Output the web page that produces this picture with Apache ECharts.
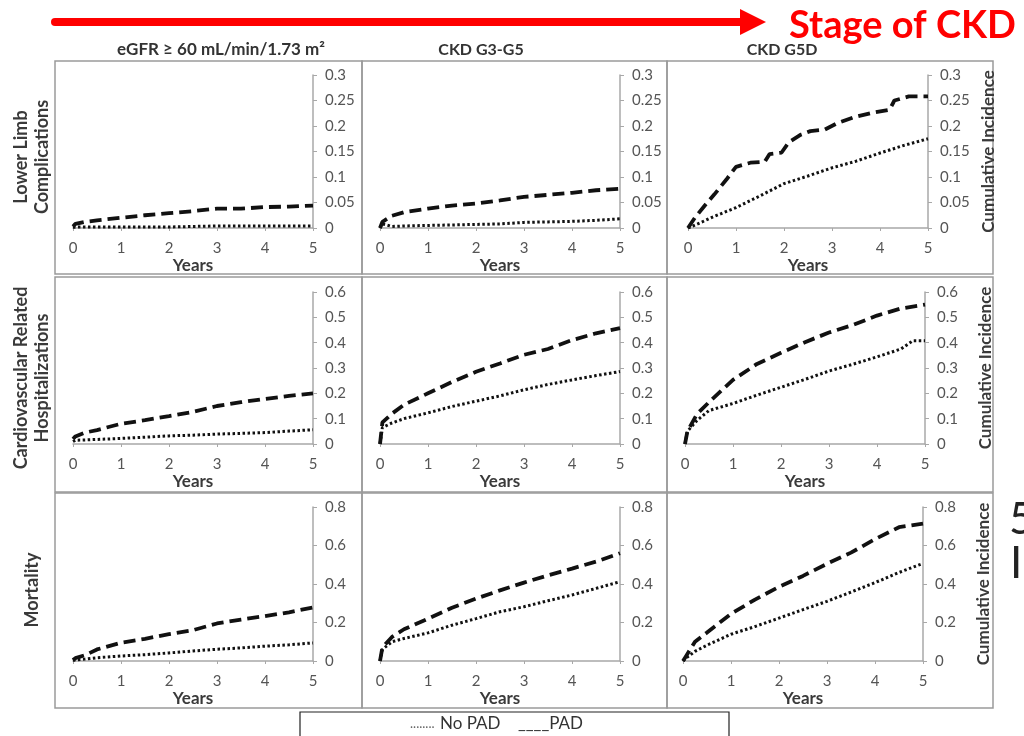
<!DOCTYPE html>
<html>
<head>
<meta charset="utf-8">
<script src="https://cdn.jsdelivr.net/npm/echarts@6/dist/echarts.min.js"></script>
<style>html,body{margin:0;padding:0;background:#fff;}#c{width:1024px;height:736px;}</style>
</head>
<body>
<div id="c"></div>
<script>
// ---------- data ----------
const columnTitles = ['eGFR \u2265 60 mL/min/1.73 m\u00B2', 'CKD G3-G5', 'CKD G5D'];
const rowTitles = ['Lower Limb\nComplications', 'Cardiovascular Related\nHospitalizations', 'Mortality'];
const yMax = [0.3, 0.6, 0.8];
const yStep = [0.05, 0.1, 0.2];
const xTicks = [0, 1, 2, 3, 4, 5];
const years = [0, 0.05, 0.25, 0.5, 1, 1.5, 2, 2.5, 3, 3.5, 4, 4.5, 5];

// Lower limb complications
const llEgfrPad   = [0.003, 0.008, 0.012, 0.015, 0.020, 0.025, 0.029, 0.033, 0.038, 0.038, 0.041, 0.042, 0.044];
const llEgfrNoPad = [0.001, 0.002, 0.002, 0.002, 0.002, 0.002, 0.002, 0.003, 0.004, 0.004, 0.004, 0.004, 0.004];
const llG3Pad     = [0, 0.012, 0.024, 0.031, 0.038, 0.044, 0.048, 0.054, 0.061, 0.065, 0.069, 0.074, 0.077];
const llG3NoPad   = [0, 0.008, 0.003, 0.004, 0.005, 0.006, 0.007, 0.008, 0.011, 0.012, 0.013, 0.015, 0.018];
const llG5dPadYears = [0, 0.15, 0.35, 0.55, 0.8, 1.0, 1.3, 1.6, 1.7, 1.95, 2.1, 2.35, 2.55, 2.85, 3.1, 3.45, 3.8, 4.2, 4.3, 4.6, 5];
const llG5dPad    = [0, 0.021, 0.044, 0.066, 0.095, 0.120, 0.128, 0.130, 0.145, 0.148, 0.168, 0.183, 0.190, 0.193, 0.205, 0.217, 0.225, 0.232, 0.250, 0.258, 0.258];
const llG5dNoPad  = [0, 0.002, 0.010, 0.021, 0.040, 0.063, 0.087, 0.102, 0.118, 0.131, 0.147, 0.162, 0.175];

// Cardiovascular related hospitalizations
const cvEgfrPad   = [0.020, 0.030, 0.045, 0.055, 0.080, 0.094, 0.110, 0.127, 0.150, 0.165, 0.178, 0.190, 0.200];
const cvEgfrNoPad = [0.010, 0.015, 0.016, 0.018, 0.022, 0.027, 0.032, 0.035, 0.039, 0.042, 0.045, 0.051, 0.056];
const cvG3Pad     = [0, 0.085, 0.120, 0.155, 0.200, 0.245, 0.285, 0.318, 0.352, 0.375, 0.410, 0.437, 0.457];
const cvG3NoPad   = [0, 0.065, 0.083, 0.100, 0.123, 0.148, 0.169, 0.190, 0.214, 0.235, 0.253, 0.270, 0.286];
const cvG5dPad    = [0, 0.050, 0.118, 0.165, 0.253, 0.316, 0.360, 0.402, 0.440, 0.470, 0.507, 0.535, 0.550];
const cvG5dNoPadYears = [0, 0.05, 0.25, 0.5, 1, 1.5, 2, 2.5, 3, 3.5, 4, 4.5, 4.75, 5];
const cvG5dNoPad  = [0, 0.050, 0.093, 0.132, 0.160, 0.193, 0.224, 0.255, 0.288, 0.315, 0.344, 0.375, 0.408, 0.408];

// Mortality
const moEgfrPad   = [0.005, 0.015, 0.030, 0.060, 0.095, 0.115, 0.140, 0.160, 0.195, 0.215, 0.233, 0.253, 0.278];
const moEgfrNoPad = [0.003, 0.006, 0.010, 0.017, 0.026, 0.033, 0.042, 0.052, 0.061, 0.068, 0.077, 0.084, 0.094];
const moG3Pad     = [0, 0.070, 0.125, 0.165, 0.220, 0.277, 0.324, 0.367, 0.407, 0.445, 0.480, 0.516, 0.560];
const moG3NoPad   = [0, 0.060, 0.100, 0.117, 0.146, 0.186, 0.220, 0.256, 0.282, 0.313, 0.343, 0.377, 0.412];
const moG5dPad    = [0, 0.020, 0.100, 0.148, 0.245, 0.319, 0.385, 0.442, 0.505, 0.563, 0.633, 0.695, 0.714];
const moG5dNoPad  = [0, 0.012, 0.050, 0.082, 0.139, 0.179, 0.223, 0.267, 0.310, 0.358, 0.407, 0.460, 0.507];

// panels [row][col]
const panels = [
  [ {pad:[years,llEgfrPad], no:[years,llEgfrNoPad]}, {pad:[years,llG3Pad], no:[years,llG3NoPad]}, {pad:[llG5dPadYears,llG5dPad], no:[years,llG5dNoPad]} ],
  [ {pad:[years,cvEgfrPad], no:[years,cvEgfrNoPad]}, {pad:[years,cvG3Pad], no:[years,cvG3NoPad]}, {pad:[years,cvG5dPad], no:[cvG5dNoPadYears,cvG5dNoPad]} ],
  [ {pad:[years,moEgfrPad], no:[years,moEgfrNoPad]}, {pad:[years,moG3Pad], no:[years,moG3NoPad]}, {pad:[years,moG5dPad], no:[years,moG5dNoPad]} ]
];

// ---------- layout ----------
const gridLeft = [[73,380,688],[73,380,685],[73,380,683]];
const gridTop = [75, 292, 507];
const gridH = [153, 152, 154];
const frameX = [55, 362, 667, 993];
const frameY = [[61,274],[277,492],[493,708]];
const FONT = 'Lato, "Open Sans", sans-serif';
const zip = (xs, ys) => xs.map((x, i) => [x, ys[i]]);

const grid = [], xAxis = [], yAxis = [], series = [];
let idx = 0;
for (let r = 0; r < 3; r++) {
  for (let c = 0; c < 3; c++) {
    grid.push({left: gridLeft[r][c], top: gridTop[r], width: 240, height: gridH[r]});
    xAxis.push({
      type: 'value', gridIndex: idx, min: 0, max: 5, interval: 1,
      name: 'Years', nameLocation: 'middle', nameGap: 29,
      nameTextStyle: {fontFamily: FONT, fontWeight: 'bold', fontSize: 17, color: '#3a3a3a'},
      axisLine: {show: true, lineStyle: {color: '#a8a8a8', width: 1.5}},
      axisTick: {show: true, length: 3, lineStyle: {color: '#a8a8a8'}},
      axisLabel: {fontFamily: FONT, fontSize: 15, color: '#555', margin: 13},
      splitLine: {show: false}
    });
    const ya = {
      type: 'value', gridIndex: idx, position: 'right', min: 0, max: yMax[r], interval: yStep[r],
      axisLine: {show: true, onZero: false, lineStyle: {color: '#a8a8a8', width: 1.5}},
      axisTick: {show: true, length: 4, lineStyle: {color: '#a8a8a8'}},
      axisLabel: {fontFamily: FONT, fontSize: 15, color: '#555', margin: 12},
      splitLine: {show: false}
    };
    if (c === 2) {
      ya.name = 'Cumulative Incidence';
      ya.nameLocation = 'middle';
      ya.nameRotate = 90;
      ya.nameGap = 52;
      ya.nameTextStyle = {fontFamily: FONT, fontWeight: 'bold', fontSize: 17, color: '#3a3a3a'};
    }
    yAxis.push(ya);
    const p = panels[r][c];
    series.push({
      name: 'No PAD', type: 'line', xAxisIndex: idx, yAxisIndex: idx, showSymbol: false, silent: true,
      data: zip(p.no[0], p.no[1]),
      lineStyle: {color: '#111', width: 3, type: [2.5, 2.5]}
    });
    series.push({
      name: 'PAD', type: 'line', xAxisIndex: idx, yAxisIndex: idx, showSymbol: false, silent: true,
      data: zip(p.pad[0], p.pad[1]),
      lineStyle: {color: '#111', width: 3.8, type: [12, 6]}
    });
    idx++;
  }
}

const graphic = [];
for (let r = 0; r < 3; r++) {
  for (let c = 0; c < 3; c++) {
    graphic.push({type: 'rect', silent: true, shape: {x: frameX[c], y: frameY[r][0], width: frameX[c+1]-frameX[c], height: frameY[r][1]-frameY[r][0]},
      style: {fill: 'none', stroke: '#9a9a9a', lineWidth: 1.5}});
  }
}
const colCenters = [221, 481, 782];
columnTitles.forEach((t, i) => graphic.push({type: 'text', silent: true, x: colCenters[i], y: 50,
  style: {text: t, fontFamily: FONT, fontWeight: 'bold', fontSize: i === 0 ? 17 : 16, fill: '#333', align: 'center', verticalAlign: 'middle'}}));
const rowCenters = [157, 378, 590];
rowTitles.forEach((t, i) => graphic.push({type: 'text', silent: true, x: 32, y: rowCenters[i], rotation: Math.PI/2,
  style: {text: t, fontFamily: FONT, fontWeight: 'bold', fontSize: 18, lineHeight: 21, fill: '#3a3a3a', align: 'center', verticalAlign: 'middle'}}));
// red arrow
graphic.push({type: 'line', silent: true, shape: {x1: 55, y1: 22, x2: 745, y2: 22}, style: {stroke: '#ff0000', lineWidth: 8, lineCap: 'round'}});
graphic.push({type: 'polygon', silent: true, shape: {points: [[740, 9], [766, 22], [740, 35]]}, style: {fill: '#ff0000'}});
graphic.push({type: 'text', silent: true, x: 789, y: 26, style: {text: 'Stage of CKD', fontFamily: FONT, fontWeight: 'bold', fontSize: 38, fill: '#ff0000', verticalAlign: 'middle'}});
// legend box
graphic.push({type: 'rect', silent: true, shape: {x: 300, y: 712, width: 429, height: 40}, style: {fill: '#fff', stroke: '#222', lineWidth: 1.2}});
graphic.push({type: 'text', silent: true, x: 410, y: 724, style: {text: '........', fontFamily: FONT, fontSize: 13, fill: '#666', verticalAlign: 'middle'}});
graphic.push({type: 'text', silent: true, x: 440, y: 724, style: {text: 'No PAD', fontFamily: FONT, fontSize: 17, fill: '#333', verticalAlign: 'middle'}});
graphic.push({type: 'text', silent: true, x: 518, y: 724, style: {text: '____PAD', fontFamily: FONT, fontSize: 17, fill: '#333', verticalAlign: 'middle'}});
// clipped slide text at right edge
graphic.push({type: 'text', silent: true, x: 1009, y: 498, style: {text: '5', fontFamily: FONT, fontSize: 44, fill: '#222'}});
graphic.push({type: 'text', silent: true, x: 1010, y: 542, style: {text: 'I', fontFamily: FONT, fontSize: 44, fill: '#222'}});

const chart = echarts.init(document.getElementById('c'), null, {renderer: 'canvas'});
chart.setOption({
  animation: false,
  backgroundColor: '#fff',
  grid, xAxis, yAxis, series, graphic
});
</script>
</body>
</html>
